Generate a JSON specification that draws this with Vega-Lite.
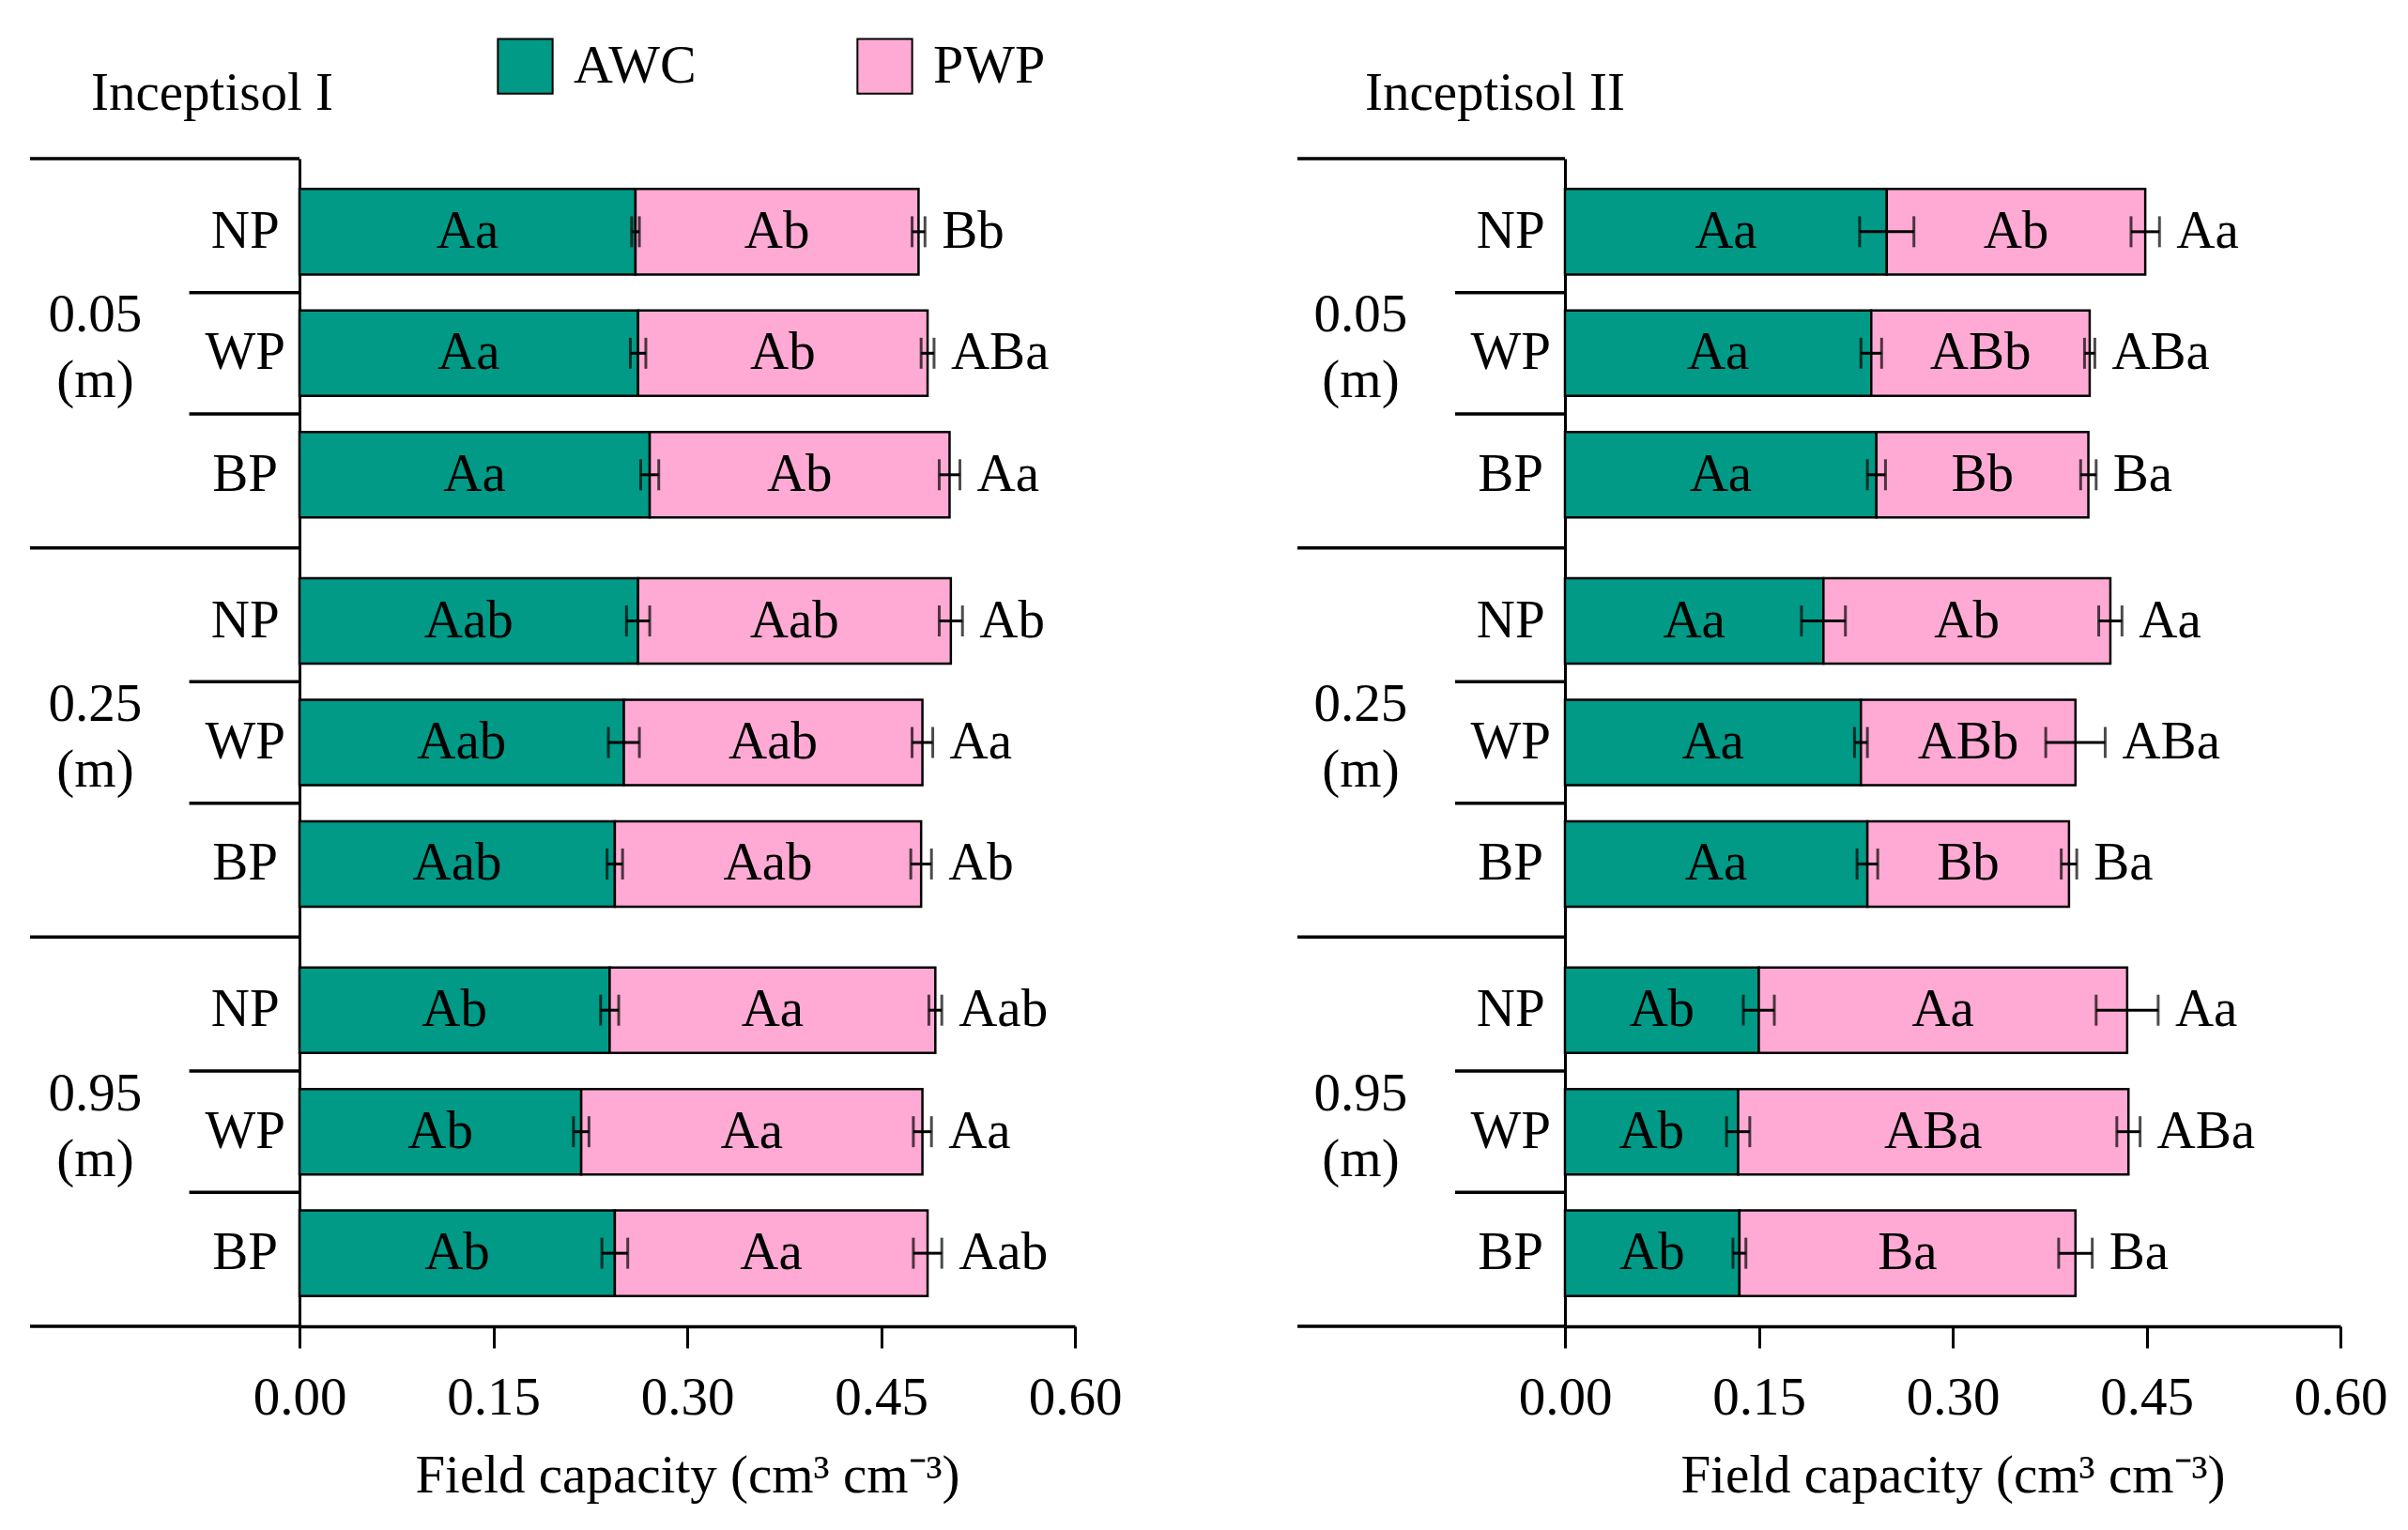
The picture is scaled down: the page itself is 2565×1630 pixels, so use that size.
{
  "$schema": "https://vega.github.io/schema/vega-lite/v6.json",
  "padding": {"left": 30, "top": 40, "right": 5, "bottom": 5},
  "spacing": 185,
  "config": {
    "font": "Liberation Serif",
    "view": {"stroke": null},
    "axis": {"grid": false},
    "text": {"color": "black"}
  },
  "datasets": {
    "fc": [
      {"soil": "I", "depth": "0.05", "trt": "NP", "comp": "AWC", "value": 0.260, "lo": 0.257, "hi": 0.263, "letter": "Aa"},
      {"soil": "I", "depth": "0.05", "trt": "NP", "comp": "PWP", "value": 0.219, "lo": 0.474, "hi": 0.484, "letter": "Ab", "total": "Bb"},
      {"soil": "I", "depth": "0.05", "trt": "WP", "comp": "AWC", "value": 0.262, "lo": 0.256, "hi": 0.268, "letter": "Aa"},
      {"soil": "I", "depth": "0.05", "trt": "WP", "comp": "PWP", "value": 0.224, "lo": 0.481, "hi": 0.491, "letter": "Ab", "total": "ABa"},
      {"soil": "I", "depth": "0.05", "trt": "BP", "comp": "AWC", "value": 0.271, "lo": 0.264, "hi": 0.278, "letter": "Aa"},
      {"soil": "I", "depth": "0.05", "trt": "BP", "comp": "PWP", "value": 0.232, "lo": 0.495, "hi": 0.511, "letter": "Ab", "total": "Aa"},
      {"soil": "I", "depth": "0.25", "trt": "NP", "comp": "AWC", "value": 0.262, "lo": 0.253, "hi": 0.271, "letter": "Aab"},
      {"soil": "I", "depth": "0.25", "trt": "NP", "comp": "PWP", "value": 0.242, "lo": 0.495, "hi": 0.513, "letter": "Aab", "total": "Ab"},
      {"soil": "I", "depth": "0.25", "trt": "WP", "comp": "AWC", "value": 0.251, "lo": 0.239, "hi": 0.263, "letter": "Aab"},
      {"soil": "I", "depth": "0.25", "trt": "WP", "comp": "PWP", "value": 0.231, "lo": 0.474, "hi": 0.490, "letter": "Aab", "total": "Aa"},
      {"soil": "I", "depth": "0.25", "trt": "BP", "comp": "AWC", "value": 0.244, "lo": 0.238, "hi": 0.250, "letter": "Aab"},
      {"soil": "I", "depth": "0.25", "trt": "BP", "comp": "PWP", "value": 0.237, "lo": 0.473, "hi": 0.489, "letter": "Aab", "total": "Ab"},
      {"soil": "I", "depth": "0.95", "trt": "NP", "comp": "AWC", "value": 0.240, "lo": 0.233, "hi": 0.247, "letter": "Ab"},
      {"soil": "I", "depth": "0.95", "trt": "NP", "comp": "PWP", "value": 0.252, "lo": 0.487, "hi": 0.497, "letter": "Aa", "total": "Aab"},
      {"soil": "I", "depth": "0.95", "trt": "WP", "comp": "AWC", "value": 0.218, "lo": 0.212, "hi": 0.224, "letter": "Ab"},
      {"soil": "I", "depth": "0.95", "trt": "WP", "comp": "PWP", "value": 0.264, "lo": 0.475, "hi": 0.489, "letter": "Aa", "total": "Aa"},
      {"soil": "I", "depth": "0.95", "trt": "BP", "comp": "AWC", "value": 0.244, "lo": 0.234, "hi": 0.254, "letter": "Ab"},
      {"soil": "I", "depth": "0.95", "trt": "BP", "comp": "PWP", "value": 0.242, "lo": 0.475, "hi": 0.497, "letter": "Aa", "total": "Aab"},
      {"soil": "II", "depth": "0.05", "trt": "NP", "comp": "AWC", "value": 0.249, "lo": 0.228, "hi": 0.270, "letter": "Aa"},
      {"soil": "II", "depth": "0.05", "trt": "NP", "comp": "PWP", "value": 0.200, "lo": 0.438, "hi": 0.460, "letter": "Ab", "total": "Aa"},
      {"soil": "II", "depth": "0.05", "trt": "WP", "comp": "AWC", "value": 0.237, "lo": 0.229, "hi": 0.245, "letter": "Aa"},
      {"soil": "II", "depth": "0.05", "trt": "WP", "comp": "PWP", "value": 0.169, "lo": 0.402, "hi": 0.410, "letter": "ABb", "total": "ABa"},
      {"soil": "II", "depth": "0.05", "trt": "BP", "comp": "AWC", "value": 0.241, "lo": 0.234, "hi": 0.248, "letter": "Aa"},
      {"soil": "II", "depth": "0.05", "trt": "BP", "comp": "PWP", "value": 0.164, "lo": 0.399, "hi": 0.411, "letter": "Bb", "total": "Ba"},
      {"soil": "II", "depth": "0.25", "trt": "NP", "comp": "AWC", "value": 0.200, "lo": 0.183, "hi": 0.217, "letter": "Aa"},
      {"soil": "II", "depth": "0.25", "trt": "NP", "comp": "PWP", "value": 0.222, "lo": 0.413, "hi": 0.431, "letter": "Ab", "total": "Aa"},
      {"soil": "II", "depth": "0.25", "trt": "WP", "comp": "AWC", "value": 0.229, "lo": 0.224, "hi": 0.234, "letter": "Aa"},
      {"soil": "II", "depth": "0.25", "trt": "WP", "comp": "PWP", "value": 0.166, "lo": 0.372, "hi": 0.418, "letter": "ABb", "total": "ABa"},
      {"soil": "II", "depth": "0.25", "trt": "BP", "comp": "AWC", "value": 0.234, "lo": 0.226, "hi": 0.242, "letter": "Aa"},
      {"soil": "II", "depth": "0.25", "trt": "BP", "comp": "PWP", "value": 0.156, "lo": 0.384, "hi": 0.396, "letter": "Bb", "total": "Ba"},
      {"soil": "II", "depth": "0.95", "trt": "NP", "comp": "AWC", "value": 0.150, "lo": 0.138, "hi": 0.162, "letter": "Ab"},
      {"soil": "II", "depth": "0.95", "trt": "NP", "comp": "PWP", "value": 0.285, "lo": 0.411, "hi": 0.459, "letter": "Aa", "total": "Aa"},
      {"soil": "II", "depth": "0.95", "trt": "WP", "comp": "AWC", "value": 0.134, "lo": 0.125, "hi": 0.143, "letter": "Ab"},
      {"soil": "II", "depth": "0.95", "trt": "WP", "comp": "PWP", "value": 0.302, "lo": 0.427, "hi": 0.445, "letter": "ABa", "total": "ABa"},
      {"soil": "II", "depth": "0.95", "trt": "BP", "comp": "AWC", "value": 0.135, "lo": 0.130, "hi": 0.140, "letter": "Ab"},
      {"soil": "II", "depth": "0.95", "trt": "BP", "comp": "PWP", "value": 0.260, "lo": 0.382, "hi": 0.408, "letter": "Ba", "total": "Ba"}
    ]
  },
  "hconcat": [
    {
      "title": {"text": "Inceptisol I", "anchor": "start", "frame": "group", "dx": -222, "offset": -7, "baseline": "alphabetic", "fontSize": 57, "fontWeight": "normal", "color": "black"},
      "width": 826,
      "height": 1244,
      "data": {"name": "fc"},
      "transform": [{"filter": "datum.soil == 'I'"}],
      "layer": [
        {
          "mark": {"type": "bar", "stroke": "black", "strokeWidth": 2.5},
          "encoding": {
            "y": {"field": "depth", "type": "nominal", "sort": ["0.05", "0.25", "0.95"], "scale": {"paddingInner": 0, "paddingOuter": 0}, "axis": {"labels": false, "ticks": false, "title": null, "domainWidth": 3, "domainColor": "black"}},
            "yOffset": {"field": "trt", "type": "nominal", "sort": ["NP", "WP", "BP"], "scale": {"paddingInner": 0.297, "paddingOuter": 0.25}},
            "x": {"field": "value", "type": "quantitative", "stack": "zero", "title": "Field capacity (cm³ cm⁻³)", "scale": {"domain": [0, 0.6], "nice": false},
              "axis": {"values": [0, 0.15, 0.3, 0.45, 0.6], "format": ".2f", "title": "Field capacity (cm³ cm⁻³)", "labelFontSize": 57, "titleFontSize": 57, "titleFontWeight": "normal", "tickSize": 23, "tickWidth": 3, "domainWidth": 3.5, "domainColor": "black", "tickColor": "black", "labelColor": "black", "titleColor": "black", "labelPadding": 25, "titlePadding": 27, "labelFlush": false}},
            "order": {"field": "comp", "sort": "ascending"},
            "color": {"field": "comp", "type": "nominal", "scale": {"domain": ["AWC", "PWP"], "range": ["#009a87", "#ffaad4"]},
              "legend": {"orient": "none", "legendX": 210, "legendY": -129, "direction": "horizontal", "title": null, "symbolType": "square", "symbolSize": 3400, "symbolStrokeColor": "black", "symbolStrokeWidth": 2, "symbolOpacity": 1, "labelFontSize": 58, "labelOffset": 21, "columnPadding": 167, "labelColor": "black"}}
          }
        },
        {
          "mark": {"type": "errorbar", "ticks": true, "size": 33, "thickness": 3, "color": "black"},
          "encoding": {
            "y": {"field": "depth", "type": "nominal", "sort": ["0.05", "0.25", "0.95"]},
            "yOffset": {"field": "trt", "type": "nominal", "sort": ["NP", "WP", "BP"]},
            "x": {"field": "lo", "type": "quantitative", "title": "Field capacity (cm³ cm⁻³)"},
            "x2": {"field": "hi"}
          }
        },
        {
          "mark": {"type": "text", "fontSize": 57, "baseline": "middle"},
          "encoding": {
            "y": {"field": "depth", "type": "nominal", "sort": ["0.05", "0.25", "0.95"]},
            "yOffset": {"field": "trt", "type": "nominal", "sort": ["NP", "WP", "BP"]},
            "x": {"field": "value", "type": "quantitative", "stack": "zero", "bandPosition": 0.5, "title": "Field capacity (cm³ cm⁻³)"},
            "detail": {"field": "comp"},
            "order": {"field": "comp", "sort": "ascending"},
            "text": {"field": "letter"}
          }
        },
        {
          "transform": [{"filter": "datum.comp == 'PWP'"}],
          "mark": {"type": "text", "fontSize": 57, "baseline": "middle", "align": "left", "dx": 18},
          "encoding": {
            "y": {"field": "depth", "type": "nominal", "sort": ["0.05", "0.25", "0.95"]},
            "yOffset": {"field": "trt", "type": "nominal", "sort": ["NP", "WP", "BP"]},
            "x": {"field": "hi", "type": "quantitative", "title": "Field capacity (cm³ cm⁻³)"},
            "text": {"field": "total"}
          }
        },
        {
          "transform": [{"filter": "datum.comp == 'AWC'"}],
          "mark": {"type": "text", "fontSize": 57, "baseline": "middle", "align": "center"},
          "encoding": {
            "y": {"field": "depth", "type": "nominal", "sort": ["0.05", "0.25", "0.95"]},
            "yOffset": {"field": "trt", "type": "nominal", "sort": ["NP", "WP", "BP"]},
            "x": {"datum": -0.042},
            "text": {"field": "trt"}
          }
        },
        {
          "transform": [{"filter": "datum.comp == 'AWC' && datum.trt == 'WP'"}],
          "mark": {"type": "text", "fontSize": 57, "baseline": "middle", "align": "center", "dy": -40},
          "encoding": {
            "y": {"field": "depth", "type": "nominal", "sort": ["0.05", "0.25", "0.95"]},
            "x": {"datum": -0.158},
            "text": {"field": "depth"}
          }
        },
        {
          "transform": [{"filter": "datum.comp == 'AWC' && datum.trt == 'WP'"}],
          "mark": {"type": "text", "fontSize": 57, "baseline": "middle", "align": "center", "dy": 30},
          "encoding": {
            "y": {"field": "depth", "type": "nominal", "sort": ["0.05", "0.25", "0.95"]},
            "x": {"datum": -0.158},
            "text": {"value": "(m)"}
          }
        },
        {
          "transform": [{"filter": "datum.comp == 'AWC' && datum.trt == 'NP'"}],
          "mark": {"type": "rule", "color": "black", "strokeWidth": 3.5},
          "encoding": {
            "y": {"field": "depth", "type": "nominal", "sort": ["0.05", "0.25", "0.95"], "bandPosition": 0},
            "x": {"datum": -0.2085},
            "x2": {"datum": 0}
          }
        },
        {
          "transform": [{"filter": "datum.comp == 'AWC' && datum.trt == 'NP' && datum.depth == '0.95'"}],
          "mark": {"type": "rule", "color": "black", "strokeWidth": 3.5},
          "encoding": {
            "y": {"field": "depth", "type": "nominal", "sort": ["0.05", "0.25", "0.95"], "bandPosition": 1},
            "x": {"datum": -0.2085},
            "x2": {"datum": 0}
          }
        },
        {
          "transform": [{"filter": "datum.comp == 'AWC' && datum.trt == 'NP'"}],
          "mark": {"type": "rule", "color": "black", "strokeWidth": 3.5},
          "encoding": {
            "y": {"field": "depth", "type": "nominal", "sort": ["0.05", "0.25", "0.95"], "bandPosition": 0.344},
            "x": {"datum": -0.0853},
            "x2": {"datum": 0}
          }
        },
        {
          "transform": [{"filter": "datum.comp == 'AWC' && datum.trt == 'NP'"}],
          "mark": {"type": "rule", "color": "black", "strokeWidth": 3.5},
          "encoding": {
            "y": {"field": "depth", "type": "nominal", "sort": ["0.05", "0.25", "0.95"], "bandPosition": 0.656},
            "x": {"datum": -0.0853},
            "x2": {"datum": 0}
          }
        }
      ]
    },
    {
      "title": {"text": "Inceptisol II", "anchor": "start", "frame": "group", "dx": -213, "offset": -7, "baseline": "alphabetic", "fontSize": 57, "fontWeight": "normal", "color": "black"},
      "width": 826,
      "height": 1244,
      "data": {"name": "fc"},
      "transform": [{"filter": "datum.soil == 'II'"}],
      "layer": [
        {
          "mark": {"type": "bar", "stroke": "black", "strokeWidth": 2.5},
          "encoding": {
            "y": {"field": "depth", "type": "nominal", "sort": ["0.05", "0.25", "0.95"], "scale": {"paddingInner": 0, "paddingOuter": 0}, "axis": {"labels": false, "ticks": false, "title": null, "domainWidth": 3, "domainColor": "black"}},
            "yOffset": {"field": "trt", "type": "nominal", "sort": ["NP", "WP", "BP"], "scale": {"paddingInner": 0.297, "paddingOuter": 0.25}},
            "x": {"field": "value", "type": "quantitative", "stack": "zero", "title": "Field capacity (cm³ cm⁻³)", "scale": {"domain": [0, 0.6], "nice": false},
              "axis": {"values": [0, 0.15, 0.3, 0.45, 0.6], "format": ".2f", "title": "Field capacity (cm³ cm⁻³)", "labelFontSize": 57, "titleFontSize": 57, "titleFontWeight": "normal", "tickSize": 23, "tickWidth": 3, "domainWidth": 3.5, "domainColor": "black", "tickColor": "black", "labelColor": "black", "titleColor": "black", "labelPadding": 25, "titlePadding": 27, "labelFlush": false}},
            "order": {"field": "comp", "sort": "ascending"},
            "color": {"field": "comp", "type": "nominal", "scale": {"domain": ["AWC", "PWP"], "range": ["#009a87", "#ffaad4"]},
              "legend": {"orient": "none", "legendX": 210, "legendY": -129, "direction": "horizontal", "title": null, "symbolType": "square", "symbolSize": 3400, "symbolStrokeColor": "black", "symbolStrokeWidth": 2, "symbolOpacity": 1, "labelFontSize": 58, "labelOffset": 21, "columnPadding": 167, "labelColor": "black"}}
          }
        },
        {
          "mark": {"type": "errorbar", "ticks": true, "size": 33, "thickness": 3, "color": "black"},
          "encoding": {
            "y": {"field": "depth", "type": "nominal", "sort": ["0.05", "0.25", "0.95"]},
            "yOffset": {"field": "trt", "type": "nominal", "sort": ["NP", "WP", "BP"]},
            "x": {"field": "lo", "type": "quantitative", "title": "Field capacity (cm³ cm⁻³)"},
            "x2": {"field": "hi"}
          }
        },
        {
          "mark": {"type": "text", "fontSize": 57, "baseline": "middle"},
          "encoding": {
            "y": {"field": "depth", "type": "nominal", "sort": ["0.05", "0.25", "0.95"]},
            "yOffset": {"field": "trt", "type": "nominal", "sort": ["NP", "WP", "BP"]},
            "x": {"field": "value", "type": "quantitative", "stack": "zero", "bandPosition": 0.5, "title": "Field capacity (cm³ cm⁻³)"},
            "detail": {"field": "comp"},
            "order": {"field": "comp", "sort": "ascending"},
            "text": {"field": "letter"}
          }
        },
        {
          "transform": [{"filter": "datum.comp == 'PWP'"}],
          "mark": {"type": "text", "fontSize": 57, "baseline": "middle", "align": "left", "dx": 18},
          "encoding": {
            "y": {"field": "depth", "type": "nominal", "sort": ["0.05", "0.25", "0.95"]},
            "yOffset": {"field": "trt", "type": "nominal", "sort": ["NP", "WP", "BP"]},
            "x": {"field": "hi", "type": "quantitative", "title": "Field capacity (cm³ cm⁻³)"},
            "text": {"field": "total"}
          }
        },
        {
          "transform": [{"filter": "datum.comp == 'AWC'"}],
          "mark": {"type": "text", "fontSize": 57, "baseline": "middle", "align": "center"},
          "encoding": {
            "y": {"field": "depth", "type": "nominal", "sort": ["0.05", "0.25", "0.95"]},
            "yOffset": {"field": "trt", "type": "nominal", "sort": ["NP", "WP", "BP"]},
            "x": {"datum": -0.042},
            "text": {"field": "trt"}
          }
        },
        {
          "transform": [{"filter": "datum.comp == 'AWC' && datum.trt == 'WP'"}],
          "mark": {"type": "text", "fontSize": 57, "baseline": "middle", "align": "center", "dy": -40},
          "encoding": {
            "y": {"field": "depth", "type": "nominal", "sort": ["0.05", "0.25", "0.95"]},
            "x": {"datum": -0.158},
            "text": {"field": "depth"}
          }
        },
        {
          "transform": [{"filter": "datum.comp == 'AWC' && datum.trt == 'WP'"}],
          "mark": {"type": "text", "fontSize": 57, "baseline": "middle", "align": "center", "dy": 30},
          "encoding": {
            "y": {"field": "depth", "type": "nominal", "sort": ["0.05", "0.25", "0.95"]},
            "x": {"datum": -0.158},
            "text": {"value": "(m)"}
          }
        },
        {
          "transform": [{"filter": "datum.comp == 'AWC' && datum.trt == 'NP'"}],
          "mark": {"type": "rule", "color": "black", "strokeWidth": 3.5},
          "encoding": {
            "y": {"field": "depth", "type": "nominal", "sort": ["0.05", "0.25", "0.95"], "bandPosition": 0},
            "x": {"datum": -0.207},
            "x2": {"datum": 0}
          }
        },
        {
          "transform": [{"filter": "datum.comp == 'AWC' && datum.trt == 'NP' && datum.depth == '0.95'"}],
          "mark": {"type": "rule", "color": "black", "strokeWidth": 3.5},
          "encoding": {
            "y": {"field": "depth", "type": "nominal", "sort": ["0.05", "0.25", "0.95"], "bandPosition": 1},
            "x": {"datum": -0.207},
            "x2": {"datum": 0}
          }
        },
        {
          "transform": [{"filter": "datum.comp == 'AWC' && datum.trt == 'NP'"}],
          "mark": {"type": "rule", "color": "black", "strokeWidth": 3.5},
          "encoding": {
            "y": {"field": "depth", "type": "nominal", "sort": ["0.05", "0.25", "0.95"], "bandPosition": 0.344},
            "x": {"datum": -0.085},
            "x2": {"datum": 0}
          }
        },
        {
          "transform": [{"filter": "datum.comp == 'AWC' && datum.trt == 'NP'"}],
          "mark": {"type": "rule", "color": "black", "strokeWidth": 3.5},
          "encoding": {
            "y": {"field": "depth", "type": "nominal", "sort": ["0.05", "0.25", "0.95"], "bandPosition": 0.656},
            "x": {"datum": -0.085},
            "x2": {"datum": 0}
          }
        }
      ]
    }
  ]
}
